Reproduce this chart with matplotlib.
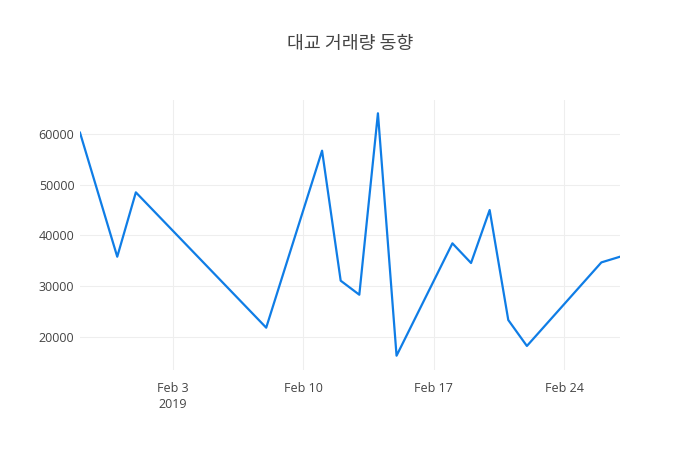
import pandas as pd
import matplotlib.pyplot as plt

plt.rcParams['font.family'] = ['Open Sans', 'Noto Sans CJK KR', 'DejaVu Sans']

# values
dates = ['2019-01-29', '2019-01-31', '2019-02-01', '2019-02-08', '2019-02-11',
         '2019-02-12', '2019-02-13', '2019-02-14', '2019-02-15', '2019-02-18',
         '2019-02-19', '2019-02-20', '2019-02-21', '2019-02-22', '2019-02-26',
         '2019-02-27']
volume = [60250, 35780, 48480, 21780, 56700, 31050, 28280, 64080, 16250, 38420,
          34540, 44990, 23290, 18170, 34660, 35780]
title = '대교 거래량 동향'
tick_dates = ['2019-02-03', '2019-02-10', '2019-02-17', '2019-02-24']
tick_labels = ['Feb 3\n2019', 'Feb 10', 'Feb 17', 'Feb 24']
y_ticks = [20000, 30000, 40000, 50000, 60000]

x = pd.to_datetime(dates)

fig = plt.figure(figsize=(7, 4.5), dpi=100)
ax = fig.add_axes([80 / 700, 80 / 450, 540 / 700, 270 / 450])
ax.plot(x, volume, color='#0f7de6', linewidth=1.6)

ax.set_xlim(x[0], x[-1])
ax.set_ylim(13430, 66700)
ax.set_xticks(pd.to_datetime(tick_dates))
ax.set_xticklabels(tick_labels)
ax.set_yticks(y_ticks)
ax.set_yticklabels([str(v) for v in y_ticks])

ax.grid(True, color='#eeeeee', linewidth=0.8)
ax.set_axisbelow(True)
for s in ax.spines.values():
    s.set_visible(False)
ax.tick_params(length=0, labelsize=9, colors='#444444', pad=4)
ax.tick_params(axis='x', pad=9)

fig.text(0.5, 1 - 44 / 450, title, ha='center', va='center', fontsize=13.2,
         color='#444444', family=['Noto Sans CJK KR', 'DejaVu Sans'])

fig.savefig('out.png', dpi=100)
